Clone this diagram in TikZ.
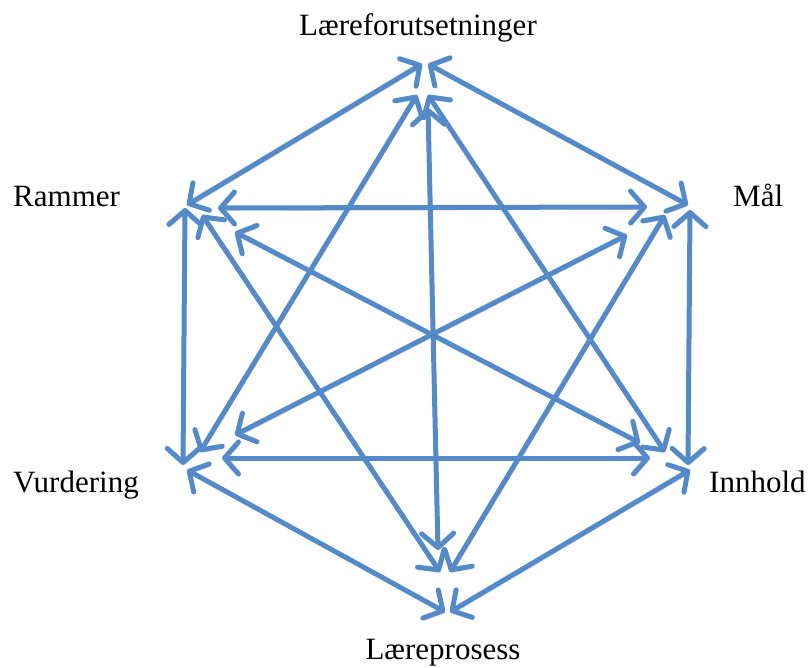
\documentclass[tikz,border=0pt]{standalone}
\usepackage{fontspec}
\setmainfont{Liberation Serif}
\usetikzlibrary{arrows.meta}
\definecolor{arrblue}{RGB}{84,138,199}
\tikzset{
  barb/.tip={Straight Barb[length=14pt,width=32pt,line cap=round,line join=round]},
  link/.style={draw=arrblue, line width=5pt, line cap=round, barb-barb,
    preaction={draw=black, draw opacity=0.16, transform canvas={shift={(1.2pt,-2.6pt)}}}},
  lbl/.style={font=\fontsize{31}{36}\selectfont, inner sep=0pt}
}
\begin{document}
\begin{tikzpicture}[x=1pt,y=-1pt]
\useasboundingbox (0,0) rectangle (811,668);
% labels
\node[lbl, anchor=base] (tl) at (418,36) {Læreforutsetninger};
\node[lbl, anchor=base west] (ul) at (13,207) {Rammer};
\node[lbl, anchor=base west] (ur) at (733,207) {Mål};
\node[lbl, anchor=base west] (ll) at (13,492) {Vurdering};
\node[lbl, anchor=base west] (lr) at (709,492) {Innhold};
\node[lbl, anchor=base] (bl) at (443,659) {Læreprosess};
% endpoints
\coordinate (a1) at (422,64);  \coordinate (b1) at (187,205);
\coordinate (a2) at (428,64);  \coordinate (b2) at (688,205);
\coordinate (a3) at (690,210); \coordinate (b3) at (688,465);
\coordinate (a4) at (185,208); \coordinate (b4) at (183,465);
\coordinate (a5) at (187,470); \coordinate (b5) at (445,612);
\coordinate (a6) at (690,470); \coordinate (b6) at (450,612);
\coordinate (a7) at (428,108); \coordinate (b7) at (438,550);
\coordinate (a8) at (235,232); \coordinate (b8) at (640,443);
\coordinate (a9) at (627,235); \coordinate (b9) at (235,435);
\coordinate (a10) at (218,208); \coordinate (b10) at (647,207);
\coordinate (a11) at (222,458); \coordinate (b11) at (650,458);
\coordinate (a12) at (417,95); \coordinate (b12) at (200,452);
\coordinate (a13) at (428,95); \coordinate (b13) at (665,452);
\coordinate (a14) at (202,215); \coordinate (b14) at (440,572);
\coordinate (a15) at (665,215); \coordinate (b15) at (450,572);
\foreach \i in {1,...,15} { \draw[link] (a\i) -- (b\i); }
\end{tikzpicture}
\end{document}
